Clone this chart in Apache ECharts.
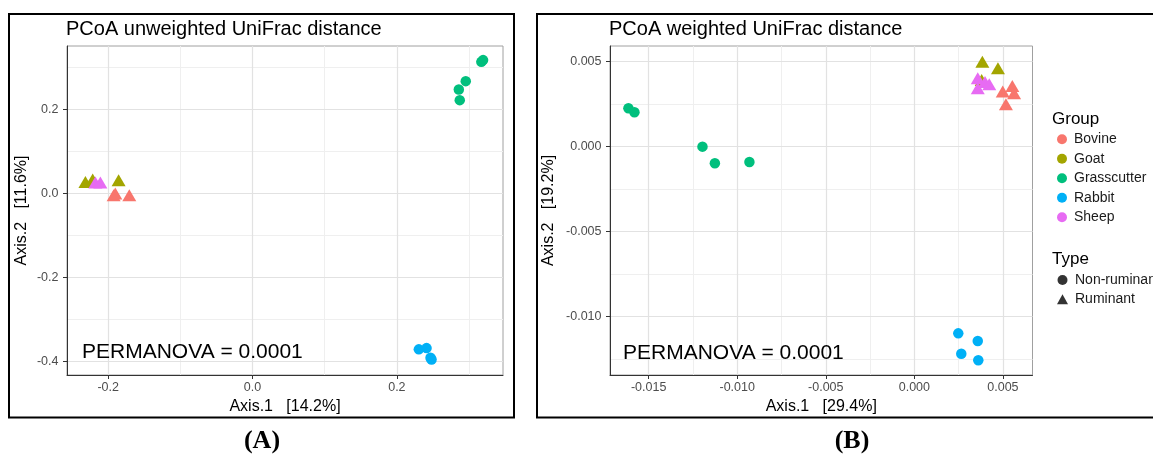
<!DOCTYPE html>
<html>
<head>
<meta charset="utf-8">
<title>PCoA UniFrac</title>
<script src="https://cdn.jsdelivr.net/npm/echarts@6/dist/echarts.min.js"></script>
<style>
  html, body { margin: 0; padding: 0; background: #ffffff; }
  #chart { width: 1153px; height: 455px; }
</style>
</head>
<body>
<div id="chart"></div>
<script>
// ---- groups and sample types ----
const groups = ['Bovine', 'Goat', 'Grasscutter', 'Rabbit', 'Sheep'];
const groupColors = ['#F8766D', '#A3A500', '#00BF7D', '#00B0F6', '#E76BF3'];
const groupType = ['Ruminant', 'Ruminant', 'Non-ruminant', 'Non-ruminant', 'Ruminant'];
const types = ['Non-ruminant', 'Ruminant'];

// ---- (A) unweighted UniFrac ordination: [Axis.1, Axis.2] ----
const uwBovine = [[-0.1924, -0.004], [-0.1901, 0.000], [-0.1707, -0.004]];
const uwGoat = [[-0.2315, 0.0276], [-0.2214, 0.0333], [-0.1855, 0.0317]];
const uwGrasscutter = [[0.3170, 0.3133], [0.3194, 0.3174], [0.2954, 0.2674], [0.2858, 0.2476], [0.2871, 0.2221]];
const uwRabbit = [[0.2304, -0.371], [0.2411, -0.368], [0.2480, -0.395], [0.2466, -0.391]];
const uwSheep = [[-0.2177, 0.026], [-0.2108, 0.026]];

// ---- (B) weighted UniFrac ordination: [Axis.1, Axis.2] ----
const wBovine = [[0.00553, 0.00357], [0.00499, 0.00324], [0.00563, 0.00314], [0.00517, 0.00249]];
const wGoat = [[0.00384, 0.00500], [0.00472, 0.00461], [0.00380, 0.00392]];
const wGrasscutter = [[-0.01614, 0.00226], [-0.01580, 0.00202], [-0.01196, 0.00000], [-0.01126, -0.00098], [-0.00931, -0.00090]];
const wRabbit = [[0.00248, -0.01098], [0.00358, -0.01143], [0.00265, -0.01218], [0.00361, -0.01256]];
const wSheep = [[0.00358, 0.00402], [0.00399, 0.00381], [0.00423, 0.00367], [0.00358, 0.00344]];

// ---- axis ticks ----
const uwXTicks = [-0.2, 0, 0.2];
const uwYTicks = [-0.4, -0.2, 0, 0.2];
const uwXMinor = [-0.1, 0.1, 0.3];
const uwYMinor = [-0.3, -0.1, 0.1, 0.3];
const wXTicks = [-0.015, -0.01, -0.005, 0, 0.005];
const wYTicks = [-0.01, -0.005, 0, 0.005];
const wXMinor = [-0.0125, -0.0075, -0.0025, 0.0025];
const wYMinor = [-0.0125, -0.0075, -0.0025, 0.0025];

// ---- axis ranges ----
const uwXRange = [-0.257, 0.347];
const uwYRange = [-0.432, 0.351];
const wXRange = [-0.01718, 0.00667];
const wYRange = [-0.01343, 0.00592];

const uwData = [uwBovine, uwGoat, uwGrasscutter, uwRabbit, uwSheep];
const wData = [wBovine, wGoat, wGrasscutter, wRabbit, wSheep];

const SANS = "'Liberation Sans', Arial, Helvetica, sans-serif";
const SERIF = "'Liberation Serif', 'Times New Roman', serif";

function mainAxis(dim, gridIndex, range, ticks, decimals, name, nameGap) {
  return {
    type: 'value',
    gridIndex: gridIndex,
    min: range[0],
    max: range[1],
    position: dim === 'x' ? 'bottom' : 'left',
    name: name,
    nameLocation: 'middle',
    nameGap: nameGap,
    nameTextStyle: { fontSize: 16, color: '#000000', fontFamily: SANS },
    axisLine: { show: true, onZero: false, lineStyle: { color: '#333333', width: 1 } },
    axisTick: { show: true, length: 4, customValues: ticks, lineStyle: { color: '#333333', width: 1 } },
    axisLabel: {
      customValues: ticks,
      formatter: function (v) { return Number(v).toFixed(decimals); },
      margin: dim === 'x' ? 6 : 8.5,
      color: '#4D4D4D',
      fontSize: 12.5,
      fontFamily: SANS
    },
    splitLine: { show: true, lineStyle: { color: '#E2E2E2', width: 1.2 } },
    z: 1
  };
}

function minorAxis(dim, gridIndex, range, ticks) {
  return {
    type: 'value',
    gridIndex: gridIndex,
    min: range[0],
    max: range[1],
    position: dim === 'x' ? 'top' : 'right',
    axisLine: { show: false },
    axisTick: { show: false, customValues: ticks },
    axisLabel: { show: false },
    splitLine: { show: true, lineStyle: { color: '#EFEFEF', width: 1 } },
    z: 0
  };
}

function panelSeries(data, xIdx, yIdx) {
  return groups.map(function (g, i) {
    const tri = groupType[i] === 'Ruminant';
    return {
      type: 'scatter',
      name: g,
      xAxisIndex: xIdx,
      yAxisIndex: yIdx,
      data: data[i],
      symbol: tri ? 'triangle' : 'circle',
      symbolSize: tri ? [14, 12] : 10.5,
      itemStyle: { color: groupColors[i], opacity: 1 },
      emphasis: { disabled: true },
      z: 3
    };
  });
}

// empty series that only feed the "Type" legend
const typeSeries = types.map(function (t) {
  return {
    type: 'scatter',
    name: t,
    xAxisIndex: 0,
    yAxisIndex: 0,
    data: [],
    symbol: t === 'Ruminant' ? 'triangle' : 'circle',
    itemStyle: { color: '#000000' }
  };
});

const legendText = { fontSize: 14, lineHeight: 14, color: '#1A1A1A', fontFamily: SANS, padding: [0, 0, 0, 2] };

const option = {
  animation: false,
  backgroundColor: '#ffffff',
  title: [
    { text: 'PCoA unweighted UniFrac distance', left: 66, top: 19, padding: 0,
      textStyle: { fontSize: 20, fontWeight: 'normal', color: '#000000', fontFamily: SANS } },
    { text: 'PCoA weighted UniFrac distance', left: 609, top: 19, padding: 0,
      textStyle: { fontSize: 20, fontWeight: 'normal', color: '#000000', fontFamily: SANS } }
  ],
  grid: [
    { left: 67, top: 46, width: 436, height: 329, show: true, borderColor: '#A0A0A0', borderWidth: 1,
      backgroundColor: 'transparent', containLabel: false, outerBoundsMode: 'none' },
    { left: 610, top: 46, width: 422.5, height: 329, show: true, borderColor: '#A0A0A0', borderWidth: 1,
      backgroundColor: 'transparent', containLabel: false, outerBoundsMode: 'none' }
  ],
  xAxis: [
    mainAxis('x', 0, uwXRange, uwXTicks, 1, 'Axis.1   [14.2%]', 22),
    minorAxis('x', 0, uwXRange, uwXMinor),
    mainAxis('x', 1, wXRange, wXTicks, 3, 'Axis.1   [29.4%]', 22),
    minorAxis('x', 1, wXRange, wXMinor)
  ],
  yAxis: [
    mainAxis('y', 0, uwYRange, uwYTicks, 1, 'Axis.2   [11.6%]', 37),
    minorAxis('y', 0, uwYRange, uwYMinor),
    mainAxis('y', 1, wYRange, wYTicks, 3, 'Axis.2   [19.2%]', 53),
    minorAxis('y', 1, wYRange, wYMinor)
  ],
  legend: [
    {
      orient: 'vertical', left: 1057, top: 132.3, padding: 0,
      itemWidth: 10, itemHeight: 10, itemGap: 5.5, selectedMode: false,
      data: groups.map(function (g) { return { name: g, icon: 'circle' }; }),
      textStyle: legendText
    },
    {
      orient: 'vertical', left: 1057, top: 273, padding: 0,
      itemWidth: 11, itemHeight: 10, itemGap: 5.3, selectedMode: false,
      data: [{ name: 'Non-ruminant', icon: 'circle' }, { name: 'Ruminant', icon: 'triangle' }],
      textStyle: legendText
    }
  ],
  graphic: [
    { type: 'rect', z: 100, shape: { x: 9, y: 14, width: 505, height: 403.5 }, silent: true,
      style: { fill: 'none', stroke: '#000000', lineWidth: 2 } },
    { type: 'rect', z: 100, shape: { x: 537, y: 14, width: 700, height: 403.5 }, silent: true,
      style: { fill: 'none', stroke: '#000000', lineWidth: 2 } },
    { type: 'text', z: 100, x: 82, y: 352, silent: true,
      style: { text: 'PERMANOVA = 0.0001', fill: '#000000', font: '21px ' + SANS, verticalAlign: 'middle' } },
    { type: 'text', z: 100, x: 623, y: 353, silent: true,
      style: { text: 'PERMANOVA = 0.0001', fill: '#000000', font: '21px ' + SANS, verticalAlign: 'middle' } },
    { type: 'text', z: 100, x: 262, y: 441, silent: true,
      style: { text: '(A)', fill: '#000000', font: 'bold 26px ' + SERIF, align: 'center', verticalAlign: 'middle' } },
    { type: 'text', z: 100, x: 852, y: 441, silent: true,
      style: { text: '(B)', fill: '#000000', font: 'bold 26px ' + SERIF, align: 'center', verticalAlign: 'middle' } },
    { type: 'text', z: 100, x: 1052, y: 119.3, silent: true,
      style: { text: 'Group', fill: '#000000', font: '17px ' + SANS, verticalAlign: 'middle' } },
    { type: 'text', z: 100, x: 1052, y: 259.3, silent: true,
      style: { text: 'Type', fill: '#000000', font: '17px ' + SANS, verticalAlign: 'middle' } }
  ],
  series: panelSeries(uwData, 0, 0).concat(panelSeries(wData, 2, 2)).concat(typeSeries)
};

const chart = echarts.init(document.getElementById('chart'), null, { renderer: 'canvas' });
chart.setOption(option);
</script>
</body>
</html>
